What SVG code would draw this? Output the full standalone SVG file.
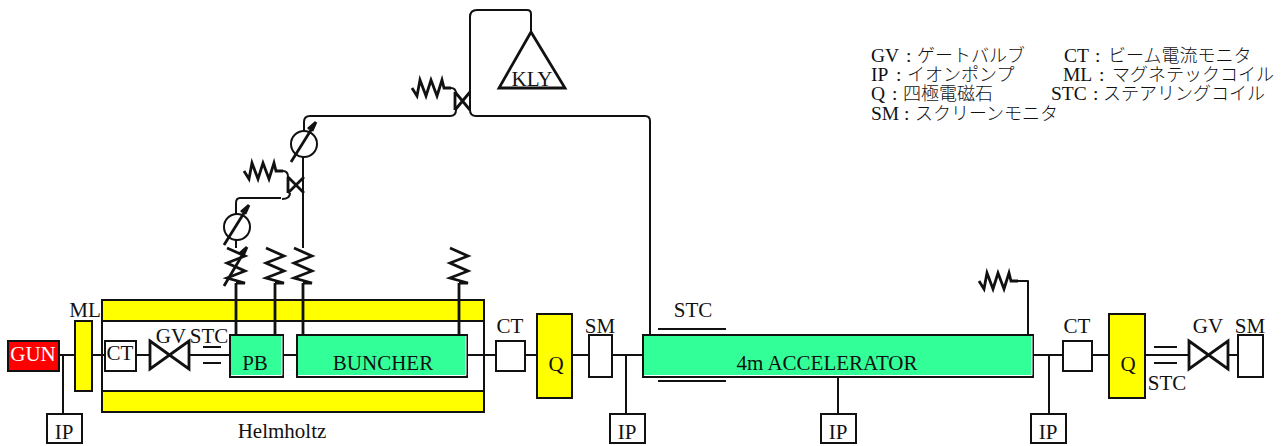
<svg xmlns="http://www.w3.org/2000/svg" width="1284" height="446" viewBox="0 0 1284 446">
<style>
text{font-family:"Liberation Serif","Noto Sans CJK JP",serif;font-size:21px;fill:#111;text-anchor:middle}
.l{text-anchor:start;font-size:19.5px}
.j{font-family:"Noto Sans CJK JP",sans-serif;font-size:18px;font-weight:300}
.s{fill:none;stroke:#111;stroke-width:2;stroke-linejoin:round}
.t{fill:none;stroke:#111;stroke-width:2.8;stroke-linejoin:miter}
.b{fill:#fff;stroke:#111;stroke-width:2}
.y{fill:#ff0;stroke:#111;stroke-width:2}
.g{fill:#3f9;stroke:#111;stroke-width:2}
.h{fill:none;stroke:#fff;stroke-width:1}
</style>
<defs>
<path id="rv" class="t" d="M-9 0L9 8L-9 15L9 23L-9 30L9 35H0"/>
<path id="rh" class="t" d="M-1 0L4 8L7 -8L13 8L18 -8L24 8L29 -8L31 0H38"/>
<path id="ps" class="t" d="M-13 18L12 -22M12 -22L8 -13M12 -22L4 -15"/>
</defs>
<g id="helmholtz">
<rect class="y" x="102" y="300" width="382" height="21"/>
<rect class="y" x="102" y="391" width="382" height="21"/>
<path class="s" d="M102 321V391M484 321V391"/>
<text x="282" y="438">Helmholtz</text>
</g>
<g id="connectors">
<path class="s" d="M59 355H74M92 355H105M136 355H150M189 355H230M283 355H297M467 355H496M525 355H537M572 355H589M612 355H643M1033 355H1063M1092 355H1109M1145 355H1189M1228 355H1238"/>
<path class="s" d="M63 355V414M626 355V414M838 377V414M1049 355V414"/>
<path class="t" d="M236 335V283M275 335V283M303 335V283M459 335V283"/>
<path class="s" d="M1028 335V281H1017"/>
<path class="s" d="M303 248V157M304 131V122Q304 116 310 116H450Q456 116 456 110"/>
<path class="s" d="M531 32V14Q531 10 527 10H477Q470 10 470 17V110Q470 116 476 116H645Q650 116 650 121V335"/>
<path class="s" d="M282 199Q290 199 290 193M281 198H240Q236 198 236 203V214M236 240V248"/>
<path class="s" d="M283 171Q288 171 288 177M451 88Q456 88 456 94"/>
</g>
<g id="gun"><rect x="8" y="341" width="51" height="30" fill="#f00" stroke="#111" stroke-width="2"/><text x="33" y="361" style="fill:#fff">GUN</text></g>
<g id="ml"><rect class="y" x="75" y="321" width="17" height="70"/><text x="85" y="317">ML</text></g>
<g id="ct1"><rect class="b" x="105" y="341" width="31" height="30"/><text x="120" y="360">CT</text></g>
<g id="gv1"><path class="t" d="M150 341L189 369V341L150 369Z"/><text x="171" y="343">GV</text></g>
<g id="stc1"><path class="s" d="M203 347H221M203 363H221"/><text x="209" y="343">STC</text></g>
<g id="pb"><rect class="g" x="230" y="335" width="53" height="42"/><path class="h" d="M282 336V375.5H231"/><text x="255" y="370">PB</text></g>
<g id="buncher"><rect class="g" x="297" y="335" width="170" height="42"/><path class="h" d="M466 336V375.5H298"/><text x="383" y="370">BUNCHER</text></g>
<g id="ct2"><rect class="b" x="496" y="341" width="29" height="30"/><text x="510" y="333">CT</text></g>
<g id="q1"><rect class="y" x="537" y="314" width="35" height="84"/><text x="556" y="371">Q</text></g>
<g id="sm1"><rect class="b" x="589" y="335" width="23" height="42"/><text x="600" y="333">SM</text></g>
<g id="accel"><rect class="g" x="643" y="335" width="390" height="42"/><path class="h" d="M1032 336V375.5H644"/><text x="827" y="370">4m ACCELERATOR</text></g>
<g id="stc2"><path class="s" d="M658 329H726M658 381H726"/><text x="693" y="317">STC</text></g>
<g id="ct3"><rect class="b" x="1063" y="341" width="29" height="30"/><text x="1077" y="333">CT</text></g>
<g id="q2"><rect class="y" x="1109" y="314" width="36" height="84"/><text x="1128" y="371">Q</text></g>
<g id="stc3"><path class="s" d="M1154 347H1177M1154 363H1177"/><text x="1167" y="390">STC</text></g>
<g id="gv2"><path class="t" d="M1189 341L1228 369V341L1189 369Z"/><text x="1208" y="333">GV</text></g>
<g id="sm2"><rect class="b" x="1238" y="335" width="25" height="42"/><text x="1250" y="333">SM</text></g>
<g id="ip1"><rect class="b" x="47" y="414" width="35" height="29"/><text x="64" y="439">IP</text></g>
<g id="ip2"><rect class="b" x="610" y="414" width="35" height="29"/><text x="627" y="439">IP</text></g>
<g id="ip3"><rect class="b" x="821" y="414" width="35" height="29"/><text x="838" y="439">IP</text></g>
<g id="ip4"><rect class="b" x="1031" y="414" width="35" height="29"/><text x="1048" y="439">IP</text></g>
<g id="kly"><path class="t" d="M531 32L565 88H499Z"/><text x="532" y="86">KLY</text></g>
<g id="load1"><use href="#rv" x="236" y="248"/><path class="t" d="M224 286L247 247M247 247L243 256M247 247L239 254"/></g>
<g id="load2"><use href="#rv" x="275" y="248"/></g>
<g id="load3"><use href="#rv" x="303" y="248"/></g>
<g id="load4"><use href="#rv" x="459" y="248"/></g>
<g id="load5"><use href="#rh" x="245" y="171"/></g>
<g id="load6"><use href="#rh" x="413" y="88"/></g>
<g id="load7"><use href="#rh" x="980" y="281"/></g>
<g id="phase1"><circle cx="237" cy="227" r="13" fill="#fff" stroke="#111" stroke-width="2"/><use href="#ps" x="237" y="227"/></g>
<g id="phase2"><circle cx="304" cy="144" r="13" fill="#fff" stroke="#111" stroke-width="2"/><use href="#ps" x="304" y="144"/></g>
<g id="coupler1"><path class="t" d="M288 177L304 193M304 177L288 193M288 177V193"/></g>
<g id="coupler2"><path class="t" d="M455 92L470 110M470 92L455 110M455 92V110"/></g>
<g id="legend">
<text class="l" x="871" y="62">GV<tspan x="906">:</tspan><tspan class="j" x="917">ゲートバルブ</tspan></text>
<text class="l" x="1064" y="62">CT<tspan x="1095">:</tspan><tspan class="j" x="1108">ビーム電流モニタ</tspan></text>
<text class="l" x="871" y="81">IP<tspan x="896">:</tspan><tspan class="j" x="907">イオンポンプ</tspan></text>
<text class="l" x="1063" y="81">ML<tspan x="1099">:</tspan><tspan class="j" x="1112">マグネテックコイル</tspan></text>
<text class="l" x="871" y="100">Q<tspan x="892">:</tspan><tspan class="j" x="903">四極電磁石</tspan></text>
<text class="l" x="1051" y="100">STC<tspan x="1093">:</tspan><tspan class="j" x="1103">ステアリングコイル</tspan></text>
<text class="l" x="871" y="120">SM<tspan x="904">:</tspan><tspan class="j" x="915">スクリーンモニタ</tspan></text>
</g>
</svg>
